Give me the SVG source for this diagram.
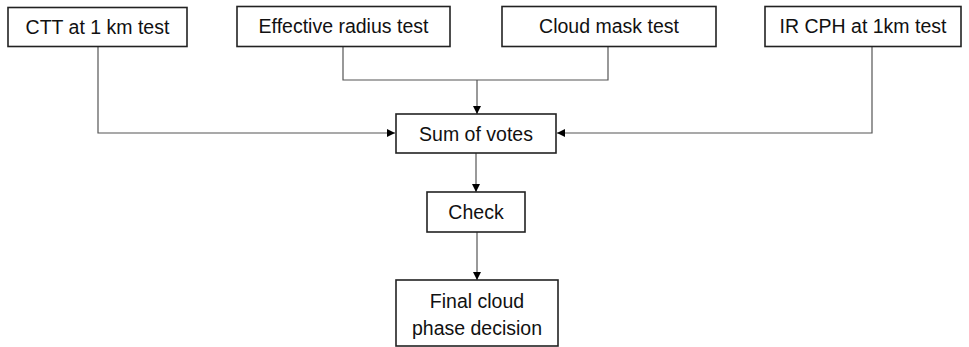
<svg xmlns="http://www.w3.org/2000/svg" width="969" height="347" viewBox="0 0 969 347">
<style>
.box{fill:#fff;stroke:#222;stroke-width:1.6}
.t{font-family:"Liberation Sans",Arial,sans-serif;font-size:19.5px;fill:#111;text-anchor:middle}
.c{fill:none;stroke:#555;stroke-width:1.2}
</style>
<defs>
<marker id="ah" viewBox="0 0 10 10" refX="10" refY="5" markerWidth="8" markerHeight="8" markerUnits="userSpaceOnUse" orient="auto">
<path d="M0,0 L10,5 L0,10 z" fill="#000"/>
</marker>
</defs>
<rect width="969" height="347" fill="#fff"/>
<g id="connectors">
<path class="c" d="M98,46 V133 H395" marker-end="url(#ah)"/>
<path class="c" d="M343,46 V80 H608 V46"/>
<path class="c" d="M477,80 V114" marker-end="url(#ah)"/>
<path class="c" d="M872,46 V133 H557" marker-end="url(#ah)"/>
<path class="c" d="M476,153 V192" marker-end="url(#ah)"/>
<path class="c" d="M477,232 V280" marker-end="url(#ah)"/>
</g>
<g id="ctt"><rect class="box" x="8" y="7.5" width="179" height="39"/><text class="t" x="97.5" y="33.5">CTT at 1 km test</text></g>
<g id="reff"><rect class="box" x="237" y="6.5" width="213" height="40"/><text class="t" x="343.5" y="33">Effective radius test</text></g>
<g id="cmask"><rect class="box" x="502" y="6.5" width="214" height="40"/><text class="t" x="609" y="33">Cloud mask test</text></g>
<g id="ircph"><rect class="box" x="765" y="6.5" width="196" height="40"/><text class="t" x="863" y="33">IR CPH at 1km test</text></g>
<g id="sum"><rect class="box" x="396" y="114" width="160" height="39"/><text class="t" x="476" y="140.5">Sum of votes</text></g>
<g id="check"><rect class="box" x="427" y="192" width="98" height="40"/><text class="t" x="476" y="218.5">Check</text></g>
<g id="final"><rect class="box" x="396" y="280" width="162" height="66"/><text class="t" x="477" y="307.5">Final cloud</text><text class="t" x="477" y="335">phase decision</text></g>
</svg>
